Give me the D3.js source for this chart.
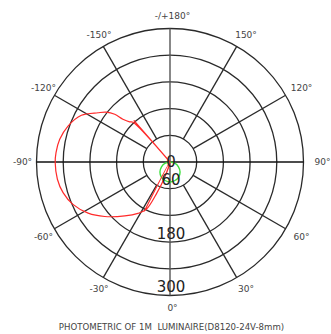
<!DOCTYPE html>
<html><head><meta charset="utf-8">
<script src="https://cdn.jsdelivr.net/npm/d3@7"></script>
<style>body{margin:0;background:#fff}svg{display:block}</style>
</head><body><svg id="c" width="331" height="334"></svg>
<script>
// ---- data ----
const ringValues = [60, 120, 180, 240, 300];
const ringLabels = [0, 60, 180, 300];
const spokeAngles = [-150, -120, -90, -60, -30, 0, 30, 60, 90, 120, 150, 180];
const angleLabels = ["-150°", "-120°", "-90°", "-60°", "-30°", "0°", "30°", "60°", "90°", "120°", "150°", "-/+180°"];
const redAngles = [-141, -139, -138, -137, -134.8, -132.2, -130.8, -128, -124.4, -117.8, -109.4, -101.6, -94.7, -89.7, -81.3, -74, -66.4, -58, -50.1, -40, -32, -26.6, -23, -19, -15, -27.5];
const redValues = [0, 124, 0, 122, 128, 143, 164, 182, 196, 225, 243, 253, 257, 258, 256, 250, 238, 217, 191, 158, 136, 119, 76, 35, 0, 125];
const greenAngles = [-90, -75, -60, -45, -30, -15, 0, 15, 30, 45, 60, 75, 90];
const greenValues = [0, 12, 22, 32, 39, 43, 45, 43, 39, 32, 22, 12, 0];
const title = "PHOTOMETRIC OF 1M  LUMINAIRE(D8120-24V-8mm)";

// ---- layout ----
const W = 331, H = 334, cx = 170, cy = 162, R = 133.5;
const svg = d3.select("#c");
svg.append("rect").attr("width", W).attr("height", H).attr("fill", "#fff");
const g = svg.append("g").attr("transform", `translate(${cx},${cy})`);
const r = d3.scaleLinear().domain([0, 300]).range([0, R]);
const rad = d => d * Math.PI / 180;
// theta: 0 at bottom, +90 at right
const px = (th, rr) => rr * Math.sin(rad(th));
const py = (th, rr) => rr * Math.cos(rad(th));

const gridColor = "#2a2a2a";
// rings
g.selectAll("circle.ring").data(ringValues).join("circle")
  .attr("class", "ring").attr("r", d => r(d))
  .attr("fill", "none").attr("stroke", gridColor).attr("stroke-width", 1.3);
// spokes
g.selectAll("line.spoke").data(spokeAngles.filter(d => d % 90 !== 0)).join("line")
  .attr("class", "spoke")
  .attr("x1", d => px(d, r(60))).attr("y1", d => py(d, r(60)))
  .attr("x2", d => px(d, R)).attr("y2", d => py(d, R))
  .attr("stroke", gridColor).attr("stroke-width", 1.3);
// through-lines for 0/180 and +-90
g.append("line").attr("x1", px(0, R)).attr("y1", py(0, R)).attr("x2", px(180, R)).attr("y2", py(180, R))
  .attr("stroke", "#555").attr("stroke-width", 1.4);
g.append("line").attr("x1", px(-90, R)).attr("y1", py(-90, R)).attr("x2", px(90, R)).attr("y2", py(90, R))
  .attr("stroke", "#111").attr("stroke-width", 1.3);

// angle labels
g.selectAll("text.ang").data(spokeAngles).join("text")
  .attr("class", "ang")
  .attr("x", d => 2.5 + px(d, 146 + 4 * Math.pow(Math.sin(rad(d)), 2)))
  .attr("y", d => py(d, 146 + 4 * Math.pow(Math.sin(rad(d)), 2)))
  .attr("text-anchor", "middle").attr("dominant-baseline", "central")
  .attr("font-family", "DejaVu Sans").attr("font-size", 9).attr("fill", "#444")
  .text((d, i) => angleLabels[i]);

// series
const radial = d3.lineRadial().angle(d => rad(180 - d[0])).radius(d => r(d[1]));
g.append("path").datum(greenAngles.map((a, i) => [a, greenValues[i]]))
  .attr("d", radial.curve(d3.curveCatmullRom.alpha(0.5))).attr("fill", "none")
  .attr("stroke", "#3ee03e").attr("stroke-width", 1.4);
g.append("path").datum(redAngles.map((a, i) => [a, redValues[i]]))
  .attr("d", radial.curve(d3.curveCatmullRom.alpha(0.5)))
  .attr("fill", "none").attr("stroke", "#ff2a2a").attr("stroke-width", 1.2);

// ring labels
g.selectAll("text.rl").data(ringLabels).join("text")
  .attr("class", "rl")
  .attr("x", 1)
  .attr("y", d => d === 0 ? -0.5 : r(d) - 8.5)
  .attr("text-anchor", "middle").attr("dominant-baseline", "central")
  .attr("font-family", "DejaVu Sans").attr("font-size", 15).attr("fill", "#222")
  .text(d => d);

// title
svg.append("text").attr("x", 171.5).attr("y", 327)
  .attr("text-anchor", "middle").attr("dominant-baseline", "central")
  .attr("font-family", "DejaVu Sans").attr("font-size", 8.6).attr("fill", "#444")
  .style("white-space", "pre")
  .text(title);
</script></body></html>
